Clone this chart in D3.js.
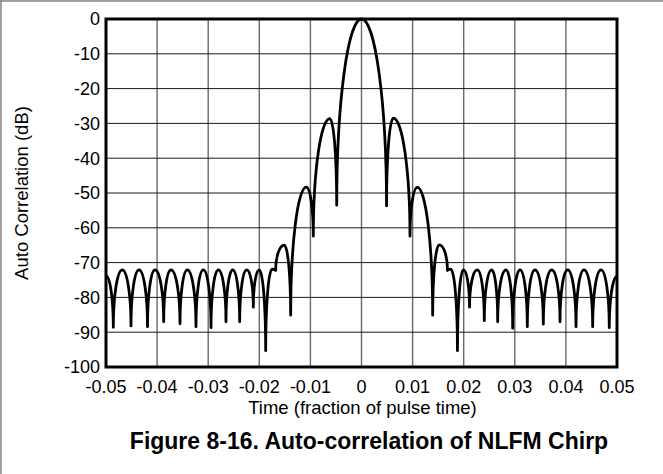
<!DOCTYPE html>
<html>
<head>
<meta charset="utf-8">
<script src="https://cdn.jsdelivr.net/npm/d3@7"></script>
<style>
  body { margin: 0; background: #fff; }
  svg { display: block; font-family: "Liberation Sans", Arial, sans-serif; }
</style>
</head>
<body>
<svg id="chart" width="663" height="474"></svg>
<script>
// tick values
var xTicks = [-0.05, -0.04, -0.03, -0.02, -0.01, 0, 0.01, 0.02, 0.03, 0.04, 0.05];
var yTicks = [0, -10, -20, -30, -40, -50, -60, -70, -80, -90, -100];

// auto-correlation trace: alternating nulls and lobe peaks
var timeVals = [
  -0.0500, -0.04857, -0.04681, -0.04511, -0.04354, -0.04188, -0.04041, -0.03871,
  -0.03728, -0.03552, -0.03409, -0.03239, -0.03096, -0.02945, -0.02802, -0.02652,
  -0.02521, -0.02384, -0.02247, -0.02117, -0.02000, -0.01875, -0.01750, -0.01680,
  -0.01510, -0.01386, -0.01080, -0.00943, -0.00619, -0.00485, 0,
  0.00490, 0.00622, 0.00949, 0.01092, 0.01393, 0.01520, 0.01683, 0.01748,
  0.01878, 0.01992, 0.02114, 0.02266, 0.02403, 0.02548, 0.02665, 0.02828,
  0.02959, 0.03102, 0.03245, 0.03395, 0.03558, 0.03722, 0.03885, 0.04035,
  0.04198, 0.04354, 0.04524, 0.04687, 0.04849, 0.0500
];
var dbVals = [
  -73.8, -88.6, -72.1, -88.2, -72.1, -88.4, -72.1, -87.0,
  -72.1, -87.6, -72.1, -88.4, -72.1, -88.7, -72.1, -87.0,
  -72.1, -87.0, -72.1, -82.8, -72.1, -95.3, -71.9, -72.3,
  -65.0, -85.1, -48.3, -62.4, -28.6, -53.5, 0,
  -53.7, -28.5, -62.4, -48.4, -85.1, -64.9, -72.3, -71.9,
  -95.3, -72.1, -82.8, -72.1, -86.7, -72.1, -87.0, -72.1,
  -88.9, -72.1, -88.4, -72.1, -87.7, -72.1, -87.0, -72.1,
  -88.4, -72.1, -88.4, -72.1, -88.7, -74.0
];

var svg = d3.select("#chart"),
    margin = {top: 19, right: 46, bottom: 107, left: 106},
    W = +svg.attr("width"), H = +svg.attr("height");

var x = d3.scaleLinear().domain([-0.05, 0.05]).range([margin.left, W - margin.right]);
var y = d3.scaleLinear().domain([-100, 0]).range([H - margin.bottom, margin.top]);

// plain hyphen for negatives, like the original figure
var fmtX = function(d) { return d === 0 ? "0" : d3.format(".2f")(d).replace("\u2212", "-"); };

// page frame (top and left edge)
svg.append("line").attr("x1", 0).attr("x2", W).attr("y1", 1).attr("y2", 1)
  .attr("stroke", "#808080").attr("stroke-width", 1.5);
svg.append("line").attr("x1", 1).attr("x2", 1).attr("y1", 0).attr("y2", H)
  .attr("stroke", "#808080").attr("stroke-width", 1.5);

// grid
svg.append("g").selectAll("line").data(xTicks.slice(1, -1)).enter().append("line")
  .attr("x1", function(d) { return x(d); }).attr("x2", function(d) { return x(d); })
  .attr("y1", y(0)).attr("y2", y(-100))
  .attr("stroke", "#6a6a6a").attr("stroke-width", 1.4);
svg.append("g").selectAll("line").data(yTicks.slice(1, -1)).enter().append("line")
  .attr("x1", x(-0.05)).attr("x2", x(0.05))
  .attr("y1", function(d) { return y(d); }).attr("y2", function(d) { return y(d); })
  .attr("stroke", "#1a1a1a").attr("stroke-width", 1);

// tick labels
svg.append("g").selectAll("text").data(yTicks).enter().append("text")
  .attr("x", x(-0.05) - 6).attr("y", function(d) { return y(d); })
  .attr("dy", "0.35em").attr("text-anchor", "end")
  .style("font-size", "18px").text(function(d) { return d; });
svg.append("g").selectAll("text").data(xTicks).enter().append("text")
  .attr("x", function(d) { return x(d); }).attr("y", y(-100) + 26)
  .attr("text-anchor", "middle")
  .style("font-size", "18px").text(fmtX);

// the trace: lobes rise vertically out of each null and flatten at each peak
var pts = timeVals.map(function(t, i) { return [x(t), y(dbVals[i])]; });
function lobePath(p) {
  var k = 0.55, path = d3.path();
  path.moveTo(p[0][0], p[0][1]);
  for (var i = 1; i < p.length; i++) {
    var a = p[i - 1], b = p[i];
    if (a[1] > b[1]) // rising out of a null
      path.bezierCurveTo(a[0], a[1] + k * (b[1] - a[1]), b[0] + k * (a[0] - b[0]), b[1], b[0], b[1]);
    else             // falling into a null
      path.bezierCurveTo(a[0] + k * (b[0] - a[0]), a[1], b[0], b[1] + k * (a[1] - b[1]), b[0], b[1]);
  }
  return path.toString();
}
svg.append("defs").append("clipPath").attr("id", "plotClip").append("rect")
  .attr("x", x(-0.05)).attr("y", y(0) - 4).attr("width", x(0.05) - x(-0.05)).attr("height", y(-100) - y(0) + 4);
svg.append("path")
  .attr("d", lobePath(pts))
  .attr("clip-path", "url(#plotClip)")
  .attr("fill", "none").attr("stroke", "#000").attr("stroke-width", 2.8)
  .attr("stroke-linejoin", "round");

// plot border
svg.append("rect")
  .attr("x", x(-0.05)).attr("y", y(0))
  .attr("width", x(0.05) - x(-0.05)).attr("height", y(-100) - y(0))
  .attr("fill", "none").attr("stroke", "#000").attr("stroke-width", 3);

// axis titles
svg.append("text").attr("x", (x(-0.05) + x(0.05)) / 2 + 1).attr("y", 414)
  .attr("text-anchor", "middle").style("font-size", "18.5px")
  .text("Time (fraction of pulse time)");
svg.append("text").attr("transform", "translate(28," + (y(-50)) + ") rotate(-90)")
  .attr("text-anchor", "middle").style("font-size", "18.5px")
  .text("Auto Correlation (dB)");

// figure caption
svg.append("text").attr("x", 369).attr("y", 449)
  .attr("text-anchor", "middle").style("font-size", "23px").style("font-weight", "bold")
  .text("Figure 8-16. Auto-correlation of NLFM Chirp");
</script>
</body>
</html>
